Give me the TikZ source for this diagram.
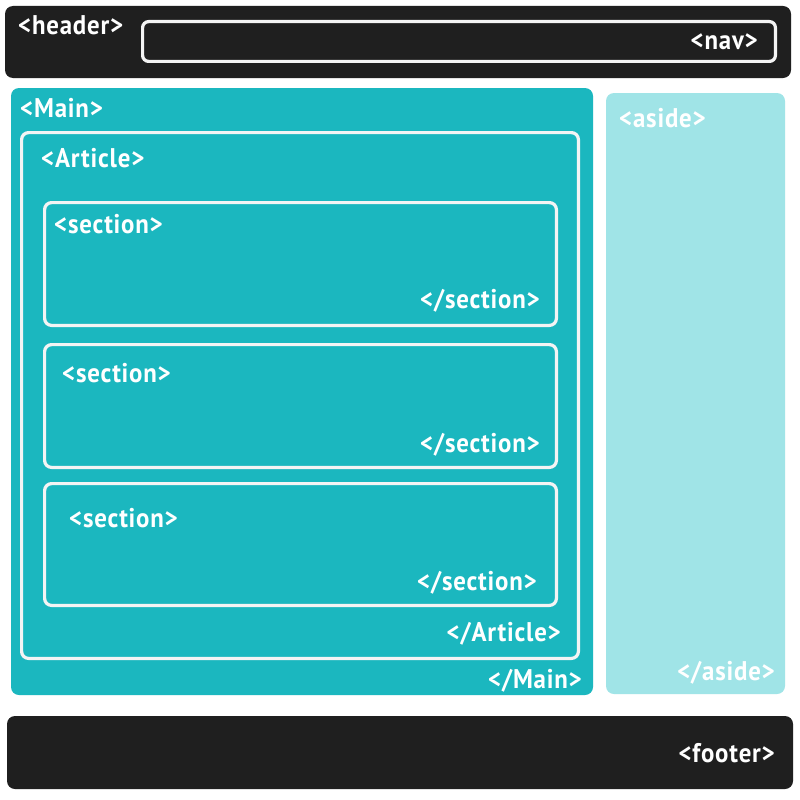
\documentclass[tikz,border=0pt]{standalone}
\usepackage{fontspec}
\setmainfont{PT Sans}[LetterSpace=3,FakeStretch=0.92]
\begin{document}
\begin{tikzpicture}[x=1pt,y=-1pt,
  dark/.style={fill=hdark, rounded corners=8pt},
  frame/.style={draw=offwhite, line width=3.2pt, rounded corners=7pt},
  tag/.style={text=white, font=\bfseries\fontsize{27}{27}\selectfont, inner sep=0pt},
  tagl/.style={tag, anchor=base west},
  tagr/.style={tag, anchor=base east}]
\definecolor{hdark}{HTML}{1F1F1F}
\definecolor{teal}{HTML}{1BB7BF}
\definecolor{lteal}{HTML}{A0E4E7}
\definecolor{offwhite}{HTML}{F4F4F4}
\useasboundingbox (0,0) rectangle (800,800);
\fill[white] (0,0) rectangle (800,800);
% header
\fill[dark] (5,6) rectangle (791,78);
\draw[frame, rounded corners=6pt] (142.6,21.6) rectangle (775.4,61.4);
\node[tagl] (header) at (18,35) {<header>};
\node[tagr] (nav) at (758,49) {<nav>};
% main
\fill[teal, rounded corners=8pt] (11,88) rectangle (593,695);
\node[tagl] (main) at (20,117) {<Main>};
\node[tagr] (mainend) at (582,688) {</Main>};
% article
\draw[frame] (21.6,132.6) rectangle (578.4,658.4);
\node[tagl] (article) at (41,167) {<Article>};
\node[tagr] (articleend) at (561,641) {</Article>};
% sections
\draw[frame] (44.6,202.6) rectangle (556.4,325.4);
\node[tagl] (s1) at (54,233) {<section>};
\node[tagr] (s1end) at (540,308) {</section>};
\draw[frame] (44.6,344.6) rectangle (556.4,467.4);
\node[tagl] (s2) at (62,382) {<section>};
\node[tagr] (s2end) at (540,452) {</section>};
\draw[frame] (44.6,483.6) rectangle (556.4,605.4);
\node[tagl] (s3) at (69,527) {<section>};
\node[tagr] (s3end) at (537,590) {</section>};
% aside
\fill[lteal, rounded corners=8pt] (606,93) rectangle (785,694);
\node[tagl] (aside) at (619,127) {<aside>};
\node[tagr] (asideend) at (775,680) {</aside>};
% footer
\fill[dark] (7,716) rectangle (793,789);
\node[tagr] (footer) at (775,762) {<footer>};
\end{tikzpicture}
\end{document}
